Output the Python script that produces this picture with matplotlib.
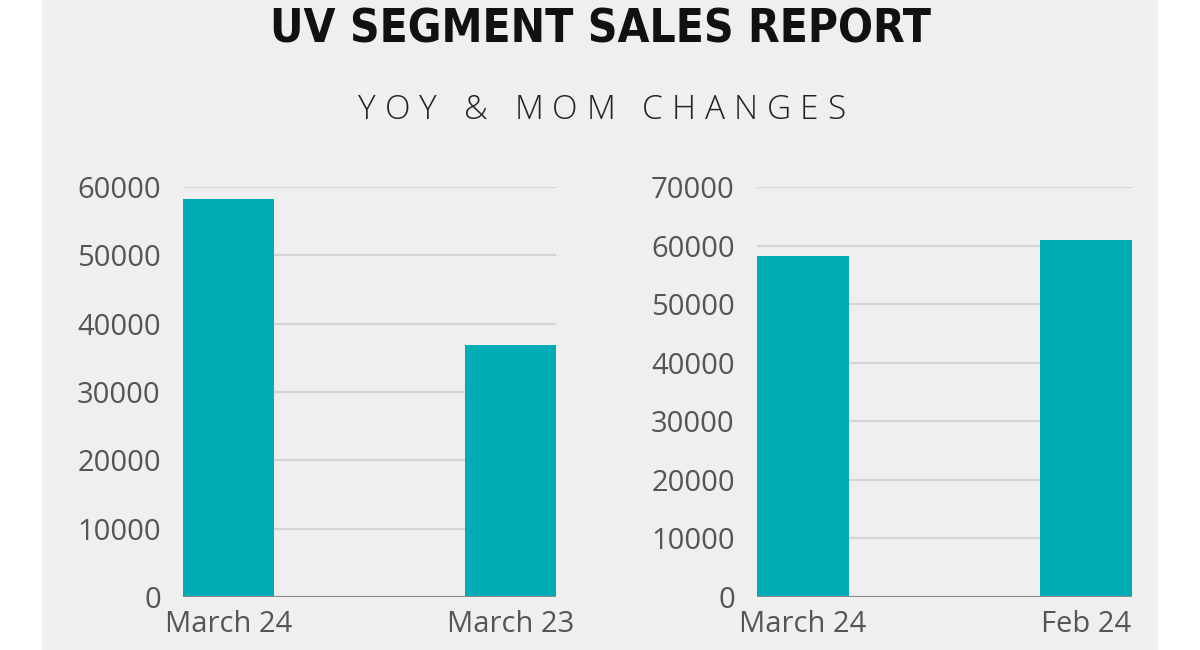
import matplotlib.pyplot as plt
from matplotlib.patches import Rectangle

# data
yoy_labels = ["March 24", "March 23"]
yoy_values = [58300, 36900]
mom_labels = ["March 24", "Feb 24"]
mom_values = [58200, 61000]

title = "UV SEGMENT SALES REPORT"
subtitle = "YOY & MOM CHANGES"

bar_color = "#00adb5"
bg = "#efefef"
tick_color = "#555555"

fig = plt.figure(figsize=(12, 6.5), dpi=100)
fig.patch.set_facecolor("white")
fig.add_artist(Rectangle((42 / 1200, 0), 1116 / 1200, 1, transform=fig.transFigure,
                         facecolor=bg, edgecolor="none", zorder=-10))

fig.text(0.5, 1 - 30 / 650, title, ha="center", va="center", fontsize=33,
         fontweight="bold", fontstretch="condensed",
         family=["DejaVu Sans"], color="#111111")

# subtitle with wide letter spacing: place characters one by one
renderer = fig.canvas.get_renderer()
sub_kw = dict(fontsize=24, fontweight="light", family=["Open Sans", "DejaVu Sans"],
              color="#222222", va="center", ha="left")
chars = [fig.text(0, 1 - 110 / 650, ch, **sub_kw) for ch in subtitle]
widths = []
for t in chars:
    if t.get_text() == " ":
        widths.append(9)
    else:
        widths.append(t.get_window_extent(renderer).width)
total = 845 - 358
track = (total - sum(widths)) / (len(chars) - 1)
xpos = 358
for t, w in zip(chars, widths):
    t.set_x(xpos / 1200)
    xpos += w + track


def draw(ax, labels, values, top, step):
    ax.set_facecolor(bg)
    x = range(len(labels))
    ax.bar(x, values, width=0.325, color=bar_color, zorder=3)
    ax.set_xlim(-0.1625, 1.1625)
    ax.set_ylim(0, top)
    ax.set_yticks(range(0, top + 1, step))
    ax.set_xticks(list(x))
    ax.set_xticklabels(labels)
    ax.grid(axis="y", color="#d4d4d4", linewidth=1.5, zorder=0)
    ax.axhline(0, color="#8a8a8a", linewidth=1.5, zorder=4)
    for s in ax.spines.values():
        s.set_visible(False)
    ax.tick_params(axis="both", length=0, labelsize=21, labelcolor=tick_color)
    ax.tick_params(axis="y", pad=16)
    ax.tick_params(axis="x", pad=9)
    for t in ax.get_xticklabels() + ax.get_yticklabels():
        t.set_family(["Open Sans", "DejaVu Sans"])


ax1 = fig.add_axes([183 / 1200, 53 / 650, 373 / 1200, 410 / 650])
draw(ax1, yoy_labels, yoy_values, 60000, 10000)
ax2 = fig.add_axes([757 / 1200, 53 / 650, 375 / 1200, 410 / 650])
draw(ax2, mom_labels, mom_values, 70000, 10000)

fig.savefig("out.png", dpi=100, facecolor=fig.get_facecolor())
